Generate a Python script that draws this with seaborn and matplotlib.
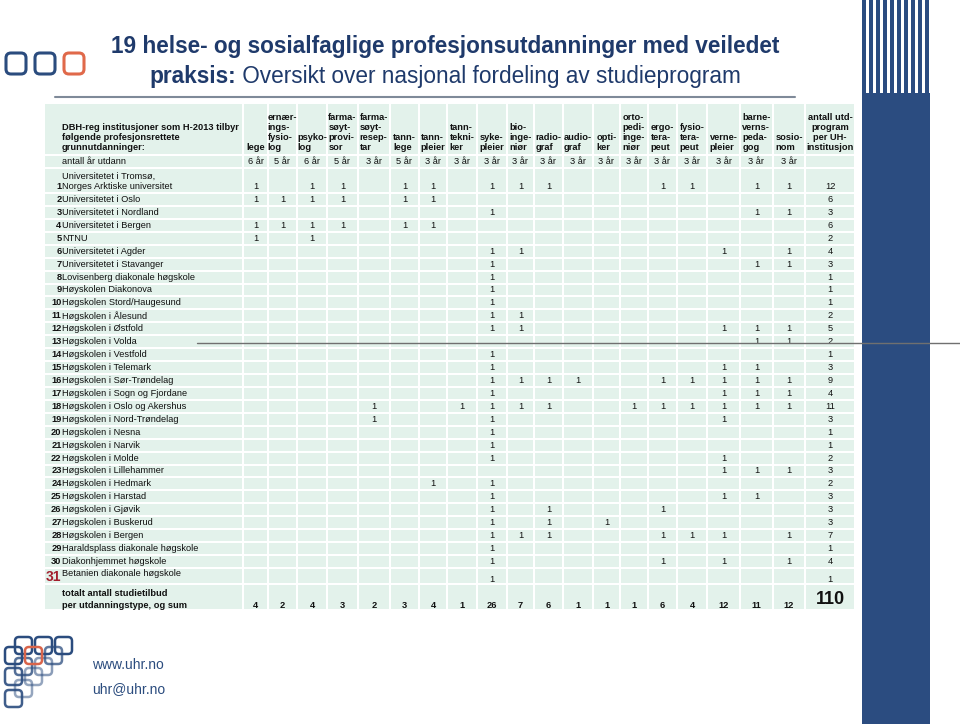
import numpy as np
import pandas as pd
import matplotlib
matplotlib.use("Agg")
import matplotlib.pyplot as plt
import seaborn as sns
from matplotlib.colors import ListedColormap
from matplotlib.patches import Rectangle, FancyBboxPatch
from matplotlib.lines import Line2D

sns.set_style("white")
plt.rcParams["font.family"] = ["Liberation Sans", "DejaVu Sans"]

# ======================
# DATA
# ======================
programs = [
    "lege", "ernær-\nings-\nfysio-\nlog", "psyko-\nlog", "farma-\nsøyt-\nprovi-\nsor",
    "farma-\nsøyt-\nresep-\ntar", "tann-\nlege", "tann-\npleier", "tann-\ntekni-\nker",
    "syke-\npleier", "bio-\ninge-\nniør", "radio-\ngraf", "audio-\ngraf", "opti-\nker",
    "orto-\npedi-\ninge-\nniør", "ergo-\ntera-\npeut", "fysio-\ntera-\npeut",
    "verne-\npleier", "barne-\nverns-\npeda-\ngog", "sosio-\nnom",
]
years = ["6 år", "5 år", "6 år", "5 år", "3 år", "5 år", "3 år", "3 år", "3 år", "3 år",
         "3 år", "3 år", "3 år", "3 år", "3 år", "3 år", "3 år", "3 år", "3 år"]

institutions = [
    "Universitetet i Tromsø,\nNorges Arktiske universitet",
    "Universitetet i Oslo", "Universitetet i Nordland", "Universitetet i Bergen", "NTNU",
    "Universitetet i Agder", "Universitetet i Stavanger", "Lovisenberg diakonale høgskole",
    "Høyskolen Diakonova", "Høgskolen Stord/Haugesund", "Høgskolen i Ålesund",
    "Høgskolen i Østfold", "Høgskolen i Volda", "Høgskolen i Vestfold", "Høgskolen i Telemark",
    "Høgskolen i Sør-Trøndelag", "Høgskolen i Sogn og Fjordane", "Høgskolen i Oslo og Akershus",
    "Høgskolen i Nord-Trøndelag", "Høgskolen i Nesna", "Høgskolen i Narvik",
    "Høgskolen i Molde", "Høgskolen i Lillehammer", "Høgskolen i Hedmark",
    "Høgskolen i Harstad", "Høgskolen i Gjøvik", "Høgskolen i Buskerud", "Høgskolen i Bergen",
    "Haraldsplass diakonale høgskole", "Diakonhjemmet høgskole", "Betanien diakonale høgskole",
]

# one row per institution, one column per programme (1 = offered)
offers = [
    [1, 0, 1, 1, 0, 1, 1, 0, 1, 1, 1, 0, 0, 0, 1, 1, 0, 1, 1],
    [1, 1, 1, 1, 0, 1, 1, 0, 0, 0, 0, 0, 0, 0, 0, 0, 0, 0, 0],
    [0, 0, 0, 0, 0, 0, 0, 0, 1, 0, 0, 0, 0, 0, 0, 0, 0, 1, 1],
    [1, 1, 1, 1, 0, 1, 1, 0, 0, 0, 0, 0, 0, 0, 0, 0, 0, 0, 0],
    [1, 0, 1, 0, 0, 0, 0, 0, 0, 0, 0, 0, 0, 0, 0, 0, 0, 0, 0],
    [0, 0, 0, 0, 0, 0, 0, 0, 1, 1, 0, 0, 0, 0, 0, 0, 1, 0, 1],
    [0, 0, 0, 0, 0, 0, 0, 0, 1, 0, 0, 0, 0, 0, 0, 0, 0, 1, 1],
    [0, 0, 0, 0, 0, 0, 0, 0, 1, 0, 0, 0, 0, 0, 0, 0, 0, 0, 0],
    [0, 0, 0, 0, 0, 0, 0, 0, 1, 0, 0, 0, 0, 0, 0, 0, 0, 0, 0],
    [0, 0, 0, 0, 0, 0, 0, 0, 1, 0, 0, 0, 0, 0, 0, 0, 0, 0, 0],
    [0, 0, 0, 0, 0, 0, 0, 0, 1, 1, 0, 0, 0, 0, 0, 0, 0, 0, 0],
    [0, 0, 0, 0, 0, 0, 0, 0, 1, 1, 0, 0, 0, 0, 0, 0, 1, 1, 1],
    [0, 0, 0, 0, 0, 0, 0, 0, 0, 0, 0, 0, 0, 0, 0, 0, 0, 1, 1],
    [0, 0, 0, 0, 0, 0, 0, 0, 1, 0, 0, 0, 0, 0, 0, 0, 0, 0, 0],
    [0, 0, 0, 0, 0, 0, 0, 0, 1, 0, 0, 0, 0, 0, 0, 0, 1, 1, 0],
    [0, 0, 0, 0, 0, 0, 0, 0, 1, 1, 1, 1, 0, 0, 1, 1, 1, 1, 1],
    [0, 0, 0, 0, 0, 0, 0, 0, 1, 0, 0, 0, 0, 0, 0, 0, 1, 1, 1],
    [0, 0, 0, 0, 1, 0, 0, 1, 1, 1, 1, 0, 0, 1, 1, 1, 1, 1, 1],
    [0, 0, 0, 0, 1, 0, 0, 0, 1, 0, 0, 0, 0, 0, 0, 0, 1, 0, 0],
    [0, 0, 0, 0, 0, 0, 0, 0, 1, 0, 0, 0, 0, 0, 0, 0, 0, 0, 0],
    [0, 0, 0, 0, 0, 0, 0, 0, 1, 0, 0, 0, 0, 0, 0, 0, 0, 0, 0],
    [0, 0, 0, 0, 0, 0, 0, 0, 1, 0, 0, 0, 0, 0, 0, 0, 1, 0, 0],
    [0, 0, 0, 0, 0, 0, 0, 0, 0, 0, 0, 0, 0, 0, 0, 0, 1, 1, 1],
    [0, 0, 0, 0, 0, 0, 1, 0, 1, 0, 0, 0, 0, 0, 0, 0, 0, 0, 0],
    [0, 0, 0, 0, 0, 0, 0, 0, 1, 0, 0, 0, 0, 0, 0, 0, 1, 1, 0],
    [0, 0, 0, 0, 0, 0, 0, 0, 1, 0, 1, 0, 0, 0, 1, 0, 0, 0, 0],
    [0, 0, 0, 0, 0, 0, 0, 0, 1, 0, 1, 0, 1, 0, 0, 0, 0, 0, 0],
    [0, 0, 0, 0, 0, 0, 0, 0, 1, 1, 1, 0, 0, 0, 1, 1, 1, 0, 1],
    [0, 0, 0, 0, 0, 0, 0, 0, 1, 0, 0, 0, 0, 0, 0, 0, 0, 0, 0],
    [0, 0, 0, 0, 0, 0, 0, 0, 1, 0, 0, 0, 0, 0, 1, 0, 1, 0, 1],
    [0, 0, 0, 0, 0, 0, 0, 0, 1, 0, 0, 0, 0, 0, 0, 0, 0, 0, 0],
]
row_totals = [12, 6, 3, 6, 2, 4, 3, 1, 1, 1, 2, 5, 2, 1, 3, 9, 4, 11, 3, 1, 1, 2, 3, 2, 3, 3, 3, 7, 1, 4, 1]
col_totals = [4, 2, 4, 3, 2, 3, 4, 1, 26, 7, 6, 1, 1, 1, 6, 4, 12, 11, 12]
grand_total = 110

# ======================
# LAYOUT / STYLE
# ======================
W, H = 960, 726
PALE = "#e3f2eb"
NAVY = "#2b4c7e"
TITLE = "#1f3a6b"
FS = 6.7

# pixel edges of table columns (label, 19 programmes, total) and rows
x_edges = [44, 243, 268, 297, 327, 358, 390, 419, 447, 477, 507, 534, 563, 593,
           620, 648, 677, 707, 740, 773, 805, 855]
y_edges = [103, 155, 168, 193] + [193 + 12.93 * k for k in range(1, 30)] + [584, 610]


def piecewise(src, dst):
    src = np.asarray(src, float)
    dst = np.asarray(dst, float)

    def f(v):
        v = np.asarray(v, float)
        out = np.interp(v, src, dst)
        lo = dst[0] + (v - src[0]) * (dst[1] - dst[0]) / (src[1] - src[0])
        hi = dst[-1] + (v - src[-1]) * (dst[-1] - dst[-2]) / (src[-1] - src[-2])
        return np.where(v < src[0], lo, np.where(v > src[-1], hi, out))
    return f


nx, ny = len(x_edges) - 1, len(y_edges) - 1
fx, ix = piecewise(np.arange(nx + 1), x_edges), piecewise(x_edges, np.arange(nx + 1))
fy, iy = piecewise(np.arange(ny + 1), y_edges), piecewise(y_edges, np.arange(ny + 1))

fig = plt.figure(figsize=(W / 100, H / 100), dpi=100)

bg = fig.add_axes([0, 0, 1, 1])
bg.set_xlim(0, W)
bg.set_ylim(H, 0)
bg.axis("off")

# ======================
# TABLE (heatmap with pixel-matched cell sizes)
# ======================
grid = np.zeros((ny, nx))
grid[2:2 + len(offers), 1:1 + len(programs)] = np.array(offers)
grid_df = pd.DataFrame(grid)

ax = fig.add_axes([x_edges[0] / W, 1 - y_edges[-1] / H,
                   (x_edges[-1] - x_edges[0]) / W, (y_edges[-1] - y_edges[0]) / H])
sns.heatmap(grid_df, ax=ax, cmap=ListedColormap([PALE]), cbar=False,
            linewidths=1.3, linecolor="white", xticklabels=False, yticklabels=False)
ax.set_xscale("function", functions=(fx, ix))
ax.set_yscale("function", functions=(fy, iy))
ax.set_xlim(0, nx)
ax.set_ylim(ny, 0)
ax.set_xticks([])
ax.set_yticks([])
ax.xaxis.set_minor_locator(matplotlib.ticker.NullLocator())
ax.yaxis.set_minor_locator(matplotlib.ticker.NullLocator())
for s in ax.spines.values():
    s.set_visible(False)


def Y(px):
    return float(iy(px))


XL = float(ix(62))   # left edge of label text
XN = float(ix(61.5))  # right edge of row numbers
txt = dict(fontsize=FS, color="#111111")

# header
ax.text(XL, Y(150), "DBH-reg institusjoner som H-2013 tilbyr\nfølgende profesjonsrettete\ngrunnutdanninger:",
        ha="left", va="baseline", fontweight="bold", linespacing=1.15, **txt)
for j, p in enumerate(programs):
    ax.text(j + 1.5, Y(150), p, ha="center", va="baseline", fontweight="bold",
            linespacing=1.15, multialignment="left", **txt)
ax.text(nx - 0.5, Y(150), "antall utd-\nprogram\nper UH-\ninstitusjon", ha="center",
        va="baseline", fontweight="bold", linespacing=1.15, **txt)

# years row
ax.text(XL, 1.5, "antall år utdann", ha="left", va="center", **txt)
for j, yr in enumerate(years):
    ax.text(j + 1.5, 1.5, yr, ha="center", va="center", **txt)

# body
for i, name in enumerate(institutions):
    r = i + 2
    yv = r + 0.5
    if i == 0:
        yv = Y(187)
        first, second = name.split("\n")
        ax.text(XL, Y(176), first, ha="left", va="center", **txt)
        ax.text(XL, yv, second, ha="left", va="center", **txt)
    elif i == len(institutions) - 1:
        ax.text(XL, Y(573), name, ha="left", va="center", **txt)
        yv = Y(579)
    else:
        ax.text(XL, yv, name, ha="left", va="center", **txt)
    if i == len(institutions) - 1:
        ax.text(XN, Y(577), str(i + 1), ha="right", va="center", fontsize=10,
                fontweight="bold", color="#a31f2e")
    else:
        ax.text(XN, yv, str(i + 1), ha="right", va="center", fontweight="bold", **txt)
    for j, v in enumerate(offers[i]):
        if v:
            ax.text(j + 1.5, yv, str(v), ha="center", va="center", **txt)
    ax.text(nx - 0.5, yv, str(row_totals[i]), ha="center", va="center", **txt)

# totals row
ax.text(XL, Y(594), "totalt antall studietilbud", ha="left", va="center", fontweight="bold", **txt)
ax.text(XL, Y(605), "per utdanningstype, og sum", ha="left", va="center", fontweight="bold", **txt)
for j, v in enumerate(col_totals):
    ax.text(j + 1.5, Y(605), str(v), ha="center", va="center", fontweight="bold", **txt)
ax.text(nx - 0.5, Y(600), str(grand_total), ha="center", va="center", fontsize=13,
        fontweight="bold", color="#111111")

# ======================
# SLIDE DECORATION
# ======================
bg.add_patch(Rectangle((862, 93), 68, 631, color="#2b4c80", lw=0))
for k in range(10):
    bg.add_patch(Rectangle((862 + k * 7, 0), 4, 93, color="#2b4c80", lw=0))

bg.plot([55, 795], [97, 97], color="#7f8a99", lw=1.5)

for x0, col in [(6, NAVY), (35, NAVY), (64, "#e0694a")]:
    bg.add_patch(FancyBboxPatch((x0, 53), 20, 21, boxstyle="round,pad=0,rounding_size=5",
                                fc="none", ec=col, lw=2.2))

logo = [(15, 637, NAVY, 1.0), (35, 637, NAVY, 1.0), (55, 637, NAVY, 1.0),
        (5, 647, NAVY, 1.0), (45, 647, NAVY, 0.75), (15, 658, NAVY, 0.8),
        (35, 658, NAVY, 0.55), (5, 668, NAVY, 0.9), (25, 668, NAVY, 0.5),
        (15, 680, NAVY, 0.5), (5, 690, NAVY, 0.9), (25, 647, "#d9644a", 1.0)]
for x0, y0, col, a in logo:
    bg.add_patch(FancyBboxPatch((x0, y0), 17, 17, boxstyle="round,pad=0,rounding_size=4",
                                fc="none", ec=col, lw=1.8, alpha=a))

bg.text(92, 665, "www.uhr.no", ha="left", va="center", fontsize=10, color=NAVY)
bg.text(92, 689, "uhr@uhr.no", ha="left", va="center", fontsize=10, color=NAVY)

# title
bg.text(445, 47, "19 helse- og sosialfaglige profesjonsutdanninger med veiledet",
        ha="center", va="center", fontsize=16.3, fontweight="bold", color=TITLE)
t_a = bg.text(0, 76, "praksis:", ha="left", va="center", fontsize=16.3,
              fontweight="bold", color=TITLE)
t_b = bg.text(0, 76, " Oversikt over nasjonal fordeling av studieprogram", ha="left",
              va="center", fontsize=16.3, color=TITLE)
fig.canvas.draw()
rend = fig.canvas.get_renderer()
wa = t_a.get_window_extent(rend).width
wb = t_b.get_window_extent(rend).width
x0 = 445 - (wa + wb) / 2
t_a.set_x(x0)
t_b.set_x(x0 + wa)

# stray rule crossing the Volda row
fig.add_artist(Line2D([197 / W, 1.0], [1 - 342.5 / H, 1 - 342.5 / H],
                      transform=fig.transFigure, color="#707070", lw=1))

plt.savefig("out.png", dpi=100)
plt.close()
